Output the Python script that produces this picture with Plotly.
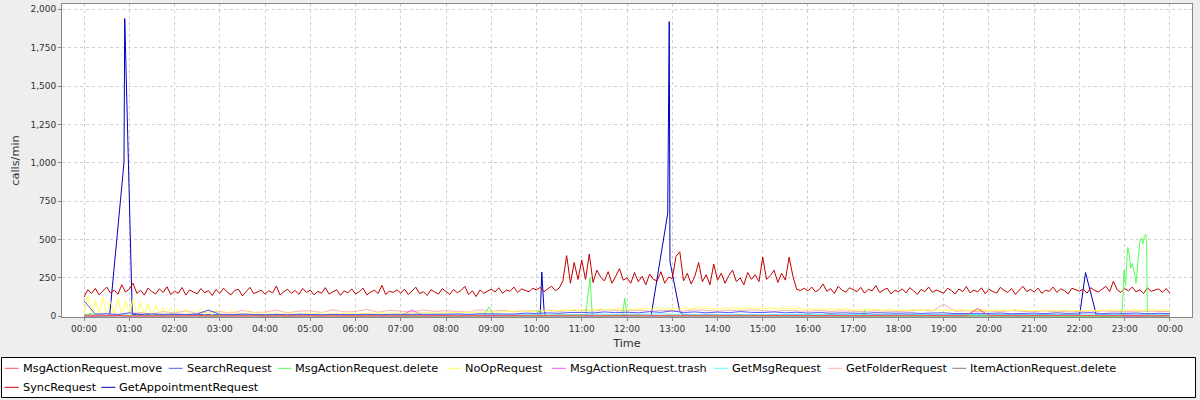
import plotly.graph_objects as go
import pandas as pd

BASE = pd.Timestamp("2024-01-01")

# ---------------- series names / colours (legend order) ----------------
series_names = ["MsgActionRequest.move", "SearchRequest", "MsgActionRequest.delete",
                "NoOpRequest", "MsgActionRequest.trash", "GetMsgRequest",
                "GetFolderRequest", "ItemActionRequest.delete",
                "SyncRequest", "GetAppointmentRequest"]
series_colors = ["#FF5555", "#5555FF", "#55FF55", "#FFFF55", "#FF55FF", "#55FFFF",
                 "#FFAFAF", "#808080", "#C00000", "#0000C0"]

# ---------------- 5-minute series (00:00 .. 24:00, 289 values) ----------------
sync_5min = [
    125,172,148,181,139,166,190,152,170,143,205,158,
    176,215,149,168,137,184,160,145,178,155,192,141,
    163,150,187,138,171,158,146,180,152,167,135,174,
    149,183,156,140,169,175,132,161,188,147,158,170,
    143,166,152,197,138,160,175,149,168,142,181,155,
    171,139,162,150,186,144,159,173,136,165,152,178,
    145,160,183,139,157,170,148,201,142,163,155,172,
    150,176,141,165,189,147,160,135,172,158,144,180,
    161,142,174,153,168,195,140,166,128,171,150,162,
    176,158,185,149,170,163,190,154,178,168,160,182,
    171,188,160,179,195,166,183,230,395,215,350,240,
    365,240,405,220,300,255,230,290,215,260,310,235,
    250,215,285,225,260,205,275,240,230,290,215,255,
    245,390,420,230,280,210,260,350,225,270,205,340,
    235,280,215,265,300,225,250,205,285,240,270,225,
    385,240,265,300,220,280,235,385,260,175,168,182,
    165,190,158,175,210,162,180,148,195,170,157,185,
    172,160,188,150,176,165,199,155,170,183,145,168,
    160,178,152,186,165,142,175,160,190,155,171,163,
    150,182,168,145,177,160,193,152,170,158,185,147,
    175,162,150,188,168,155,180,142,172,195,160,175,
    158,183,149,170,162,190,155,178,167,145,182,170,
    163,177,150,186,168,158,175,195,160,228,172,155,
    180,165,190,158,172,148,185,162,170,178,155,180,
    150]

noop_5min = [
    20,130,15,105,12,125,10,95,14,118,12,100,
    15,110,12,90,10,85,8,70,12,60,10,55,
    12,45,10,50,8,40,12,55,10,38,9,45,
    10,35,12,42,8,30,10,38,9,28,11,33,
    10,25,8,30,12,22,9,28,10,20,12,26,
    12,20,15,24,10,18,14,22,12,19,16,21,
    14,18,20,15,22,17,19,24,16,21,18,23,
    18,22,17,25,20,19,24,21,26,18,23,20,
    20,24,22,28,19,26,23,30,21,27,25,29,
    26,30,24,33,28,31,27,35,30,29,34,32,
    30,36,33,38,31,40,35,42,37,39,44,36,
    40,45,38,48,42,50,44,39,47,43,52,41,
    45,48,42,50,46,53,44,49,55,47,51,45,
    48,52,46,55,50,47,53,58,49,54,51,46,
    50,47,54,49,56,52,48,55,51,57,46,53,
    52,48,55,50,46,53,49,56,47,51,54,45,
    44,48,42,50,46,43,49,41,47,45,51,42,
    40,45,38,43,47,39,44,41,36,42,46,38,
    37,42,35,40,44,36,41,38,45,34,39,43,
    36,40,34,42,38,45,33,39,41,35,44,37,
    38,35,42,36,40,33,39,44,35,41,37,34,
    36,40,33,38,42,35,39,34,41,37,32,38,
    35,39,33,41,36,34,40,37,45,38,42,36,
    40,37,44,39,35,42,38,46,40,36,43,39,
    35]

# ---------------- 15-minute series (00:00 .. 24:00, 97 values) ----------------
search_15min = [
    100,14,16,11, 22,13,15,12, 14,11,15,40, 12,10,14,11,
    9,12,10,13, 11,9,12,10, 10,13,9,12, 12,10,14,11,
    13,15,12,16, 15,18,14,20, 18,22,19,24, 25,21,28,23,
    26,22,30,25, 35,24,28,22, 27,23,30,25, 24,28,22,26,
    20,24,19,22, 21,18,23,20, 19,22,18,21, 22,17,20,19,
    18,21,16,20, 20,17,22,18, 19,23,17,20, 18,21,16,19,
    17]

getfolder_15min = [
    8,12,15,10, 18,25,14,30, 22,35,18,28, 30,20,38,25,
    27,40,22,33, 35,24,42,28, 30,45,26,38, 33,28,40,31,
    36,30,27,42, 32,38,29,35, 34,40,31,37, 38,33,42,36,
    35,40,32,38, 37,34,41,36, 33,39,35,42, 36,31,38,34,
    32,37,30,35, 34,29,36,31, 30,35,40,33, 78,32,36,30,
    34,29,37,31, 30,35,28,33, 32,27,34,30, 29,33,31,28,
    30]

getmsg_15min = [
    3,6,5,8, 7,5,9,6, 5,8,6,4, 7,5,6,9,
    4,6,8,5, 6,4,7,5, 5,7,4,6, 8,5,6,7,
    6,9,7,8, 8,10,9,12, 11,9,13,10, 12,10,14,11,
    13,11,12,15, 12,14,10,13, 11,13,12,10, 12,9,11,13,
    10,12,9,11, 9,11,8,10, 10,8,11,9, 9,11,8,10,
    8,10,9,11, 10,8,9,7, 9,7,10,8, 8,9,7,10,
    8]

move_15min = [
    2,4,3,5, 3,2,4,3, 2,3,5,2, 3,4,2,3,
    2,3,2,4, 3,2,3,2, 2,4,3,2, 3,2,4,3,
    4,3,5,4, 5,4,6,5, 6,5,7,6, 7,5,6,8,
    6,7,5,6, 7,6,8,5, 6,5,7,6, 5,6,4,5,
    5,4,6,5, 4,5,3,4, 4,6,5,4, 5,4,4,50,
    4,5,3,4, 5,3,4,6, 4,5,3,4, 3,4,5,3,
    4]

trash_15min = [
    1,2,3,2, 2,1,3,2, 2,3,1,2, 3,2,4,2,
    2,3,2,4, 3,2,3,2, 2,4,3,2, 3,40,4,3,
    3,4,5,3, 4,3,5,4, 5,4,6,5, 6,5,4,7,
    5,6,4,5, 6,5,7,4, 5,4,6,5, 4,5,3,4,
    4,5,3,4, 3,4,3,5, 4,3,5,4, 3,5,4,3,
    4,3,5,4, 3,4,3,5, 4,3,4,3, 3,4,3,4,
    3]

itemdelete_15min = [
    0,1,0,1, 1,0,1,0, 0,1,0,1, 1,0,0,1,
    0,1,1,0, 1,0,1,0, 0,1,0,1, 1,0,1,1,
    1,2,1,1, 2,1,2,1, 2,1,2,2, 1,2,1,2,
    2,1,2,1, 1,2,1,2, 2,1,2,1, 1,2,1,1,
    1,1,2,1, 1,0,1,1, 1,1,0,1, 1,0,1,1,
    0,1,1,0, 1,0,1,1, 0,1,0,1, 1,0,1,0,
    0]

# ---------------- irregularly sampled series ----------------
delete_times = ["00:00","00:08","00:18","08:50","08:57","09:04","10:00","10:03","10:07",
                "11:05","11:11","11:14","11:54","11:57","12:00","17:13","17:15","17:17",
                "22:55","22:57","22:59","23:01","23:04","23:06","23:08","23:10","23:13",
                "23:15","23:18","23:20","23:22","23:24","23:26","23:28","23:29","23:30",
                "23:40","24:00"]
delete_values = [2,18,3,3,60,3,3,40,3,
                 4,250,4,4,117,4,3,40,3,
                 0,60,300,200,450,400,312,345,280,
                 215,377,484,510,470,520,535,480,0,
                 3,2]

appt_times = ["00:00","00:34","00:53","00:54","01:04","10:05","10:07","10:10","10:12",
              "12:32","12:54","12:56","12:57","13:10","13:15","22:00","22:01","22:08",
              "22:21","22:22","24:00"]
appt_values = [8,5,1000,1940,10,5,288,40,5,
               5,670,1920,355,30,8,8,35,284,
               35,8,6]

# ---------------- checks ----------------
for name, arr in [("sync", sync_5min), ("noop", noop_5min)]:
    assert len(arr) == 289, (name, len(arr))
for name, arr in [("search", search_15min), ("folder", getfolder_15min), ("msg", getmsg_15min),
                  ("move", move_15min), ("trash", trash_15min), ("item", itemdelete_15min)]:
    assert len(arr) == 97, (name, len(arr))
assert len(delete_times) == len(delete_values)
assert len(appt_times) == len(appt_values)

t5 = pd.date_range(BASE, periods=289, freq="5min")
t15 = pd.date_range(BASE, periods=97, freq="15min")


def hhmm(s):
    h, m = map(int, s.split(":"))
    return BASE + pd.Timedelta(minutes=h * 60 + m)


series_x = [t15, t15, [hhmm(s) for s in delete_times], t5, t15, t15, t15, t15, t5,
            [hhmm(s) for s in appt_times]]
series_y = [move_15min, search_15min, delete_values, noop_5min, trash_15min, getmsg_15min,
            getfolder_15min, itemdelete_15min, sync_5min, appt_values]

fig = go.Figure()
# JFreeChart draws in reverse order: first series ends on top
for i in reversed(range(len(series_names))):
    fig.add_trace(go.Scatter(x=series_x[i], y=series_y[i], mode="lines",
                             name=series_names[i],
                             line=dict(color=series_colors[i], width=1),
                             showlegend=False))

# ---------------- layout ----------------
L, R, T, B = 62, 8, 4, 83
W, H = 1200, 400
PW, PH = W - L - R, H - T - B


def px_x(px):
    return (px - L) / PW


def px_y(py):
    return (H - B - py) / PH


FONT = "DejaVu Sans"
axis_common = dict(showgrid=True, gridcolor="#D0D0D0", griddash="3px,3px", gridwidth=1,
                   showline=True, linecolor="#888888", linewidth=1, mirror=True,
                   ticks="outside", ticklen=3, tickcolor="#888888", zeroline=False,
                   automargin=False,
                   tickfont=dict(family=FONT, size=9, color="#333333"))

fig.update_layout(
    width=W, height=H,
    margin=dict(l=L, r=R, t=T, b=B, pad=0, autoexpand=False),
    paper_bgcolor="#EEEEEE", plot_bgcolor="white",
    showlegend=False,
    font=dict(family=FONT, size=9, color="#333333"),
    xaxis=dict(type="date",
               range=[BASE - pd.Timedelta(minutes=29.2), BASE + pd.Timedelta(hours=24, minutes=29.2)],
               tick0=BASE, dtick=3600000, tickformat="%H:%M",
               title=dict(text="Time", font=dict(family=FONT, size=11.3, color="#333333"), standoff=6),
               **axis_common),
    yaxis=dict(range=[-5.2, 2034.6], tick0=0, dtick=250, tickformat=",d",
               title=dict(text="calls/min", font=dict(family=FONT, size=11.3, color="#333333"), standoff=8),
               **axis_common),
)

# ---------------- legend box (drawn as in the reference) ----------------
shapes = [dict(type="rect", xref="paper", yref="paper",
               x0=px_x(1.5), x1=px_x(1195.5), y0=px_y(357.5), y1=px_y(397.5),
               line=dict(color="black", width=1), fillcolor="white", layer="above")]
annotations = []
legend_text_x = [22.7, 186.7, 295.4, 465.0, 570.0, 732.0, 846.0, 970.4, 22.7, 119.3]
legend_row_y = [368.3] * 8 + [387.3] * 2
for name, col, tx, ty in zip(series_names, series_colors, legend_text_x, legend_row_y):
    shapes.append(dict(type="line", xref="paper", yref="paper",
                       x0=px_x(tx - 18), x1=px_x(tx - 4), y0=px_y(ty), y1=px_y(ty),
                       line=dict(color=col, width=1), layer="above"))
    annotations.append(dict(text=name, xref="paper", yref="paper",
                            x=px_x(tx - 2), y=px_y(ty), xanchor="left", yanchor="middle",
                            showarrow=False, font=dict(family=FONT, size=11.3, color="black")))

fig.update_layout(shapes=shapes, annotations=annotations)

fig.write_html("out.html",
               config={"displayModeBar": False},
               post_script="document.body.style.margin='0';document.body.style.background='#EEEEEE';")
